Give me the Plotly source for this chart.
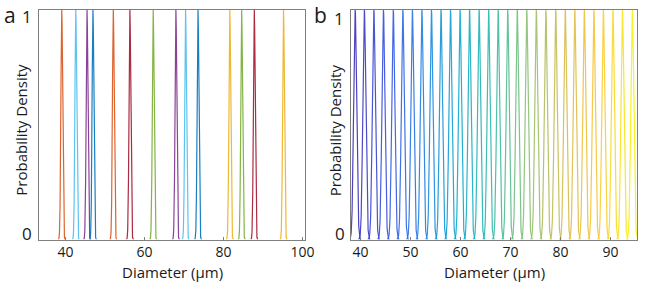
import numpy as np
import plotly.graph_objects as go

# ---- data ----
centers_a = [39.05, 42.6, 45.45, 46.95, 52.1, 56.3, 62.2, 67.95, 70.4, 73.55,
             81.6, 84.6, 87.8, 95.2]
colors_a = ["#D95319", "#4DBEEE", "#7E2F8E", "#0072BD", "#D95319", "#A2142F",
            "#77AC30", "#7E2F8E", "#4DBEEE", "#0072BD", "#EDB120", "#77AC30",
            "#A2142F", "#EDB120"]
centers_b = [38.92, 40.76, 42.66, 44.57, 46.54, 48.45, 50.36, 52.26, 54.17, 56.08,
             57.98, 59.89, 61.79, 63.70, 65.61, 67.51, 69.42, 71.33, 73.23, 75.14,
             77.05, 79.02, 80.93, 82.83, 84.74, 86.65, 88.55, 90.46, 92.37, 94.34]
xticks_a = [40, 60, 80, 100]
xticks_b = [40, 50, 60, 70, 80, 90]
yticks = [0, 1]

sigma_a = 0.22
sigma_b = 0.30

# parula-like colormap anchors (style)
parula = ["#3a2fb8", "#3553e4", "#1c82e2", "#0aa8d0", "#2fbaa6",
          "#8cc070", "#d2bb4c", "#fbc435", "#f7f20e"]


def hex2rgb(h):
    h = h.lstrip("#")
    return np.array([int(h[i:i + 2], 16) for i in (0, 2, 4)], dtype=float)


def cmap(t):
    n = len(parula) - 1
    p = t * n
    i = min(int(np.floor(p)), n - 1)
    f = p - i
    c = hex2rgb(parula[i]) * (1 - f) + hex2rgb(parula[i + 1]) * f
    return "rgb(%d,%d,%d)" % tuple(np.round(c).astype(int))


W, H = 654, 286
fig = go.Figure()


def peak(c, s):
    x = np.linspace(c - 4 * s, c + 4 * s, 161)
    y = np.exp(-(x - c) ** 2 / (2 * s * s))
    return x, y


for c, col in zip(centers_a, colors_a):
    x, y = peak(c, sigma_a)
    fig.add_trace(go.Scatter(x=x, y=y, mode="lines", line=dict(color=col, width=1.2),
                             opacity=0.9,
                             xaxis="x", yaxis="y", showlegend=False, hoverinfo="skip"))

nb = len(centers_b)
for k, c in enumerate(centers_b):
    x, y = peak(c, sigma_b)
    fig.add_trace(go.Scatter(x=x, y=y, mode="lines",
                             line=dict(color=cmap(k / (nb - 1)), width=1.2),
                             opacity=0.9,
                             xaxis="x2", yaxis="y2", showlegend=False, hoverinfo="skip"))


def fx(px):
    return px / W


def fy(py):
    return 1 - py / H


top, bot = 10, 239.5
ax_common = dict(showline=True, mirror=True, linecolor="#808080", linewidth=1,
                 showgrid=False, zeroline=False, ticks="inside", ticklen=3,
                 tickcolor="#808080", tickfont=dict(size=14, color="#1a1a1a"))

fig.update_layout(
    width=W, height=H, margin=dict(l=0, r=0, t=0, b=0),
    paper_bgcolor="white", plot_bgcolor="white",
    font=dict(family="Open Sans", color="#1a1a1a"),
    xaxis=dict(domain=[fx(40), fx(309.5)], range=[33.4, 100.7], anchor="y",
               tickvals=xticks_a, **ax_common),
    yaxis=dict(domain=[fy(bot), fy(top)], range=[0, 1], anchor="x",
               tickvals=yticks, showticklabels=False, **ax_common),
    xaxis2=dict(domain=[fx(355.7), fx(646)], range=[38.05, 95.3], anchor="y2",
                tickvals=xticks_b, **ax_common),
    yaxis2=dict(domain=[fy(bot), fy(top)], range=[0, 1], anchor="x2",
                tickvals=yticks, showticklabels=False, **ax_common),
)

ann = []


def txt(text, x, y, size, xanchor="center", yanchor="middle", angle=0):
    ann.append(dict(text=text, x=fx(x), y=fy(y), xref="paper", yref="paper",
                    showarrow=False, xanchor=xanchor, yanchor=yanchor,
                    font=dict(size=size, color="#1a1a1a"), textangle=angle))


txt("a", 10, 15, 21)
txt("b", 324.5, 15, 21)
txt(str(yticks[1]), 34, 16.5, 17, xanchor="right")
txt(str(yticks[0]), 34.5, 233, 17, xanchor="right")
txt(str(yticks[1]), 351, 18.5, 17, xanchor="right")
txt(str(yticks[0]), 351.5, 233, 17, xanchor="right")
txt("Probability Density", 21, 130, 15, angle=-90)
txt("Probability Density", 340, 130, 15, angle=-90)
txt("Diameter (µm)", 175, 271.5, 15)
txt("Diameter (µm)", 501, 271.5, 15)

fig.update_layout(annotations=ann)
fig.write_html("out.html", config={"displayModeBar": False},
               post_script="document.body.style.margin='0';document.body.style.padding='0';")
